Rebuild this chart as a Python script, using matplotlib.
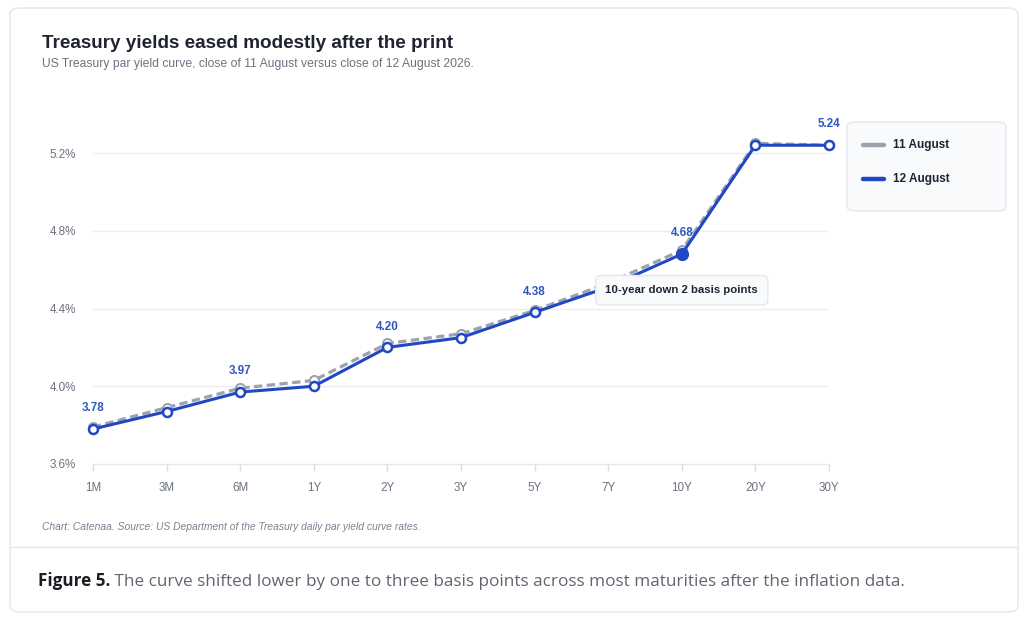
import matplotlib
matplotlib.use("Agg")
import matplotlib.pyplot as plt
from matplotlib.patches import FancyBboxPatch
from matplotlib.lines import Line2D

# ---- data ----
maturities = ["1M", "3M", "6M", "1Y", "2Y", "3Y", "5Y", "7Y", "10Y", "20Y", "30Y"]
aug11 = [3.79, 3.89, 3.99, 4.03, 4.22, 4.27, 4.39, 4.53, 4.70, 5.25, 5.24]
aug12 = [3.78, 3.87, 3.97, 4.00, 4.20, 4.25, 4.38, 4.51, 4.68, 5.24, 5.24]
labelled_idx = [0, 2, 4, 6, 8, 10]
highlight_idx = 8
y_ticks = [3.6, 4.0, 4.4, 4.8, 5.2]

title = "Treasury yields eased modestly after the print"
subtitle = "US Treasury par yield curve, close of 11 August versus close of 12 August 2026."
source = "Chart: Catenaa. Source: US Department of the Treasury daily par yield curve rates."
caption_bold = "Figure 5."
caption_rest = " The curve shifted lower by one to three basis points across most maturities after the inflation data."
note = "10-year down 2 basis points"
series_names = ["11 August", "12 August"]

GRAY = "#9ca3af"
BLUE = "#2148c4"
LABEL_BLUE = "#2f55c2"
TXT = "#1f2430"
MUTED = "#6b7280"

W, H = 1024, 617
fig = plt.figure(figsize=(W / 100, H / 100), dpi=100)
fig.patch.set_facecolor("white")

def fx(x):
    return x / W

def fy(y):
    return 1 - y / H

# card
card = FancyBboxPatch((fx(10), fy(612)), fx(1018) - fx(10), fy(8) - fy(612),
                      boxstyle="round,pad=0,rounding_size=0.01",
                      transform=fig.transFigure, facecolor="white",
                      edgecolor="#e3e6ea", linewidth=1.0, zorder=-5)
fig.patches.append(card)
fig.add_artist(Line2D([fx(11), fx(1017)], [fy(547), fy(547)], transform=fig.transFigure,
                      color="#e5e7eb", linewidth=1.0, zorder=-4))

# axes
ymin, ymax = 3.6, 5.4
px_per_unit = (464 - 153) / 1.6
top_px = 464 - (ymax - ymin) * px_per_unit
ax = fig.add_axes([fx(93), fy(464), fx(829) - fx(93), (464 - top_px) / H], zorder=2)
ax.set_facecolor("none")
x = list(range(len(maturities)))
ax.set_xlim(0, len(maturities) - 1)
ax.set_ylim(ymin, ymax)

for s in ["top", "right", "left"]:
    ax.spines[s].set_visible(False)
ax.spines["bottom"].set_color("#e5e7eb")
ax.spines["bottom"].set_linewidth(1.0)

ax.set_yticks(y_ticks)
ax.set_yticklabels([f"{v:.1f}%" for v in y_ticks])
ax.set_xticks(x)
ax.set_xticklabels(maturities)
ax.tick_params(axis="y", length=0, pad=12, labelsize=8.4, labelcolor=MUTED)
ax.tick_params(axis="x", length=5, width=1, color="#d9dce1", pad=8, labelsize=8.4, labelcolor=MUTED)
for t in ax.get_xticklabels() + ax.get_yticklabels():
    t.set_fontfamily("Liberation Sans")
for v in y_ticks[1:]:
    ax.axhline(v, color="#eceef1", linewidth=1.0, zorder=0)

# series
ax.plot(x, aug11, color=GRAY, linewidth=2.3, linestyle=(0, (2.6, 1.4)),
        marker="o", markersize=6.5, markerfacecolor="white", markeredgecolor=GRAY,
        markeredgewidth=1.5, zorder=3, clip_on=False)
ax.plot(x, aug12, color=BLUE, linewidth=2.2,
        marker="o", markersize=6.5, markerfacecolor="white", markeredgecolor=BLUE,
        markeredgewidth=1.8, zorder=4, clip_on=False)
ax.plot([x[highlight_idx]], [aug12[highlight_idx]], marker="o", markersize=8.5,
        color=BLUE, zorder=5, clip_on=False)

for i in labelled_idx:
    ax.annotate(f"{aug12[i]:.2f}", (x[i], aug12[i]), xytext=(0, 15), textcoords="offset points",
                ha="center", va="center", fontsize=8.4, fontweight="bold", color=LABEL_BLUE,
                family="Liberation Sans", zorder=6, annotation_clip=False)

ax.annotate(note, (x[highlight_idx], aug12[highlight_idx]), xytext=(0, -26),
            textcoords="offset points", ha="center", va="center", fontsize=8.2,
            fontweight="bold", color=TXT, family="Liberation Sans", zorder=7,
            bbox=dict(boxstyle="round,pad=0.85,rounding_size=0.4", facecolor="#f8fafc",
                      edgecolor="#e5e7eb", linewidth=1.0))

# legend (drawn manually)
leg_box = FancyBboxPatch((fx(847), fy(211)), fx(1006) - fx(847), fy(122) - fy(211),
                         boxstyle="round,pad=0,rounding_size=0.008",
                         transform=fig.transFigure, facecolor="#f8fafc",
                         edgecolor="#e5e7eb", linewidth=1.0, zorder=1)
fig.patches.append(leg_box)
for name, col, yy in zip(series_names, [GRAY, BLUE], [145, 179]):
    fig.add_artist(Line2D([fx(863), fx(884)], [fy(yy), fy(yy)], transform=fig.transFigure,
                          color=col, linewidth=3.2, solid_capstyle="round", zorder=2))
    fig.text(fx(893), fy(yy), name, fontsize=8.5, fontweight="bold", color=TXT,
             family="Liberation Sans", va="center", zorder=2)

# texts
fig.text(fx(42), fy(48), title, fontsize=13.6, fontweight="bold", color=TXT,
         family="Liberation Sans", va="baseline")
fig.text(fx(42), fy(67), subtitle, fontsize=8.7, color=MUTED,
         family="Liberation Sans", va="baseline")
fig.text(fx(42), fy(530), source, fontsize=7.4, color="#7b8190", style="italic",
         family="Liberation Sans", va="baseline")
cb = fig.text(fx(38), fy(586), caption_bold, fontsize=12.3, fontweight="bold", color="#1a1d24",
              family="Open Sans", va="baseline")
fig.canvas.draw()
bb = cb.get_window_extent()
fig.text(bb.x1 / W, fy(586), caption_rest, fontsize=12.3, color="#5f6672",
         family="Open Sans", va="baseline")

fig.savefig("out.png", dpi=100, facecolor="white")
